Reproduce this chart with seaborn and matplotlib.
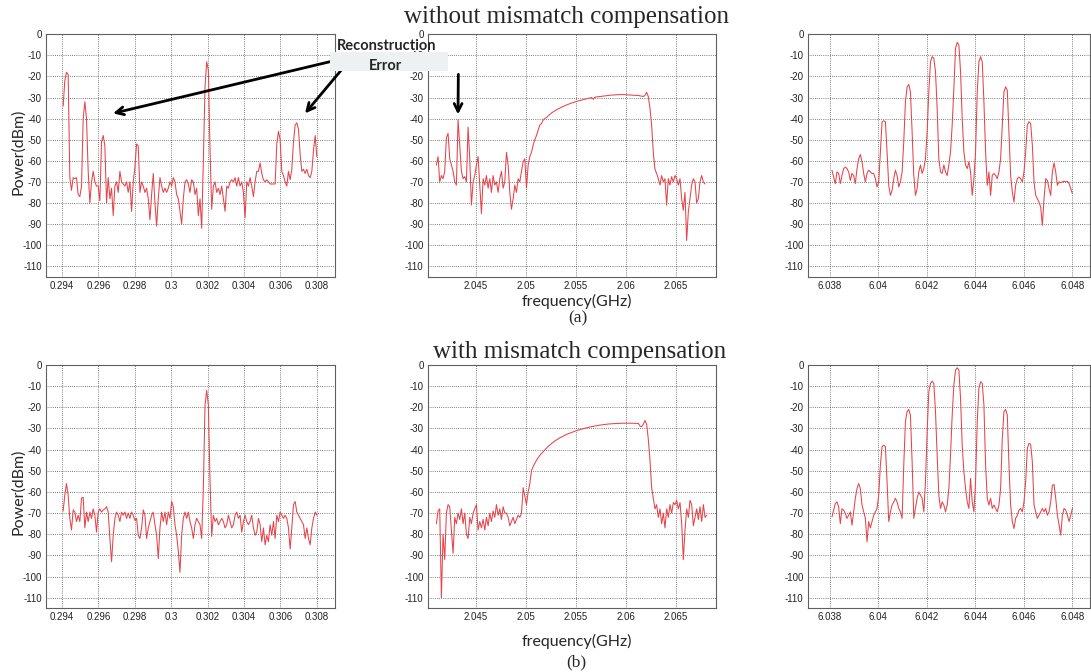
import numpy as np
import pandas as pd
import matplotlib
matplotlib.use("Agg")
import matplotlib.pyplot as plt
import matplotlib.patches as mpatches
from matplotlib.ticker import FuncFormatter
import seaborn as sns

# frequency span of every trace (GHz), bins are uniform
span_lo = (0.29406, 0.30800)
span_mid_a = (2.04107, 2.06790)
span_mid_b = (2.04107, 2.06807)
span_hi = (6.03810, 6.04800)

# power (dBm), (a) = without, (b) = with compensation
p_lo_a = [-34, -22, -18, -19, -68, -74, -68, -68.5, -68, -76, -77, -72, -40, -32, -40, -65,
          -80, -70, -65, -70, -72, -72, -79, -51, -48, -53, -80, -68, -78, -73, -86, -72,
          -70, -75, -65, -70, -71, -72, -70, -75, -70, -84, -70, -63, -52, -53, -75, -70,
          -72, -75, -73, -78, -88, -76, -66, -80, -91, -78, -68, -72, -75, -73, -75, -73,
          -70, -72, -68, -70, -76, -78, -84, -90, -78, -70, -69, -71, -75, -69, -70, -76,
          -73, -86, -78, -92, -60, -25, -13, -17, -55, -83, -72, -70, -75, -73, -76, -72,
          -78, -84, -72, -73, -70, -69, -70, -68, -72, -68, -72, -70, -75, -87, -70, -72,
          -68, -72, -77, -70, -65, -65, -61, -66, -69, -70, -69, -70, -71, -71, -71, -71,
          -52, -46, -50, -65, -67, -70, -72, -65, -69, -64, -51, -43, -42, -45, -57, -65,
          -64, -66, -64, -67, -68, -65, -55, -48, -58]
p_lo_b = [-69, -61.5, -56, -61.5, -72.5, -78, -68.5, -69.5, -74, -71, -74, -63, -62.5, -77, -69.5, -74,
          -69.5, -72.5, -68, -71, -79, -69.5, -68, -69.5, -68.5, -68, -67, -69.5, -82, -93, -80.5, -72.5,
          -69.5, -71, -74, -69.5, -71, -69.5, -72.5, -70, -72.5, -69.5, -71, -73.5, -72.5, -80.5, -82, -77,
          -68.5, -71, -82, -77, -74, -71, -69.5, -75.5, -80.5, -91.5, -77, -69.5, -74, -69.5, -75.5, -69.5,
          -72.5, -64.5, -67, -75.5, -80.5, -88, -98, -80.5, -72.5, -69.5, -72.5, -69.5, -74, -77, -82, -75.5,
          -72.5, -74, -75.5, -82, -58, -19, -12, -19, -55, -81, -71, -74, -72.5, -75.5, -74, -72.5,
          -74, -77, -75.5, -71, -74, -77, -75.5, -71, -69.5, -72.5, -71, -79, -74, -71, -74, -75.5,
          -74, -71, -77, -80.5, -79, -72.5, -75.5, -83.5, -77, -85, -80.5, -83.5, -75.5, -80.5, -74, -82,
          -71, -74, -69.5, -71, -72.5, -71, -72.5, -77, -87, -77, -66, -64.5, -69.5, -71, -72.5, -74,
          -75.5, -82, -77, -82, -85, -77, -72.5, -69.5, -71]

p_mid_a = [-62, -58, -70, -67, -68.5, -65, -49, -47, -59, -62, -65, -70, -71.5, -40.5, -52.5, -65,
           -68.5, -67.5, -70, -44, -59, -81, -70, -67, -62, -58, -71.5, -85, -68.5, -71.5, -67, -73,
           -68.5, -75, -67, -71.5, -70, -75, -68.5, -65, -73, -70, -56, -62, -75, -83, -78, -71.5,
           -75, -68.5, -70, -65, -60.5, -59, -73, -62, -58, -56, -52.5, -50, -48, -45.5, -43, -42.3,
           -40.7, -40, -39.5, -38.7, -38, -37.3, -36.8, -36.3, -35.8, -35.4, -35, -34.6, -34.2, -33.9,
           -33.5, -33.2, -32.9, -32.6, -32.4, -32.1, -31.8, -31.6, -31.4, -31.2, -31, -30.8, -30.6, -30.4,
           -30.2, -30, -30.8, -29.8, -29.7, -29.6, -29.5, -29.4, -29.3, -29.2, -29.1, -29, -28.9, -28.8,
           -28.8, -28.7, -28.7, -28.6, -28.6, -28.6, -28.6, -28.6, -28.7, -28.7, -28.8, -28.8, -28.9, -28.9,
           -29, -29, -29.2, -29.3, -29.5, -29, -27.5, -29.5, -35, -43, -56, -64, -66, -68.5, -71.5, -67,
           -70, -68.5, -81, -68.5, -71.5, -67.5, -70, -67, -68.5, -71.5, -68.5, -78, -83.5, -75, -97.8,
           -84.3, -78, -71.5, -68.5, -70, -80, -78, -70, -67, -70, -71]
p_mid_b = [-75, -69, -68, -110, -80, -92, -70, -66, -67, -78, -89, -72, -75, -70, -73, -68,
           -75, -70, -80, -82, -72, -75, -70, -68, -66, -78, -74, -77, -73, -78, -72, -76,
           -70, -74, -69, -72, -66, -71, -68, -73, -67, -70, -70, -72, -76, -74, -72, -75,
           -73, -71, -72, -70, -58, -62, -66, -60, -56, -50, -48, -46.5, -45, -43.8, -42.7, -41.8,
           -41, -40.1, -39.3, -38.5, -37.8, -37.1, -36.5, -35.9, -35.4, -34.9, -34.4, -34, -33.6, -33.2,
           -32.8, -32.5, -32.2, -31.9, -31.6, -31.3, -31, -30.8, -30.5, -30.3, -30.1, -29.9, -29.7, -29.5,
           -29.3, -29.1, -29, -28.8, -28.7, -28.5, -28.4, -28.3, -28.2, -28.1, -28, -27.9, -27.8, -27.8,
           -27.7, -27.7, -27.6, -27.6, -27.6, -27.5, -27.5, -27.5, -27.5, -27.5, -27.5, -27.5, -27.5, -27.6,
           -27.6, -27.6, -28.8, -29.2, -28, -26.2, -28, -35, -45, -58, -63, -68, -66, -72, -68, -75,
           -70, -77, -68, -72, -66, -70, -65, -66, -64, -68, -65, -75, -92, -78, -68, -72,
           -64, -66, -76, -72, -68, -73, -67, -74, -66, -72, -71]

p_hi_a = [-64.5, -67.7, -70.8, -65.3, -66, -70.8, -67, -63.7, -63, -63.7, -65.3, -69.3, -66, -67, -70.8, -63.7,
          -59, -57, -60.5, -66, -70, -66, -64.5, -65.3, -66, -66, -68.5, -72.4, -70, -55.8, -41.5, -41,
          -41.5, -55.8, -71.6, -76.4, -74, -68.5, -64.5, -67, -72.4, -70, -65.3, -51, -32, -24.9, -23.8, -27.3,
          -46.3, -66.9, -76.4, -73.2, -65.3, -62, -66, -63.7, -59, -46.3, -27.3, -13, -10.6, -11.4, -17.7, -35.2,
          -59, -65.3, -66, -62, -65.3, -67, -62, -55.8, -43, -25.7, -6.7, -3.8, -5.1, -17.7, -40, -55.8,
          -62, -63.7, -60.5, -65.3, -76.4, -68.5, -55.8, -27.3, -13, -10.6, -13, -32, -55.8, -71.6, -65.3, -76.4,
          -66.9, -66, -66.9, -68.5, -65.3, -59, -43, -27.3, -24.9, -26.5, -46.3, -67, -74.8, -79.6, -71.6, -68.5,
          -67.7, -68.5, -70, -65.3, -55.8, -43, -41.5, -42.3, -52.6, -70, -76.4, -78, -79.6, -82, -90.6, -78,
          -68.5, -69.3, -73.2, -76.4, -65.3, -61, -65.3, -71.6, -70, -70.4, -70, -69.7, -70, -69.7, -70.8, -73.2,
          -75.6]
p_hi_b = [-71.8, -68.6, -65.5, -64.7, -67, -75, -68, -68.6, -70.2, -72.5, -71, -69.4, -75.7, -69.4, -63, -58.4,
          -56, -58.4, -66.2, -69.4, -72.5, -83.6, -74, -77, -74, -71, -69.4, -67.8, -61.5, -47.3, -38.6, -37.9,
          -38.6, -55.2, -74, -69.4, -66.2, -64.7, -63, -64.7, -67.8, -69.4, -72.5, -47.3, -26.8, -22, -21, -23.7,
          -45.7, -72.5, -67.8, -63, -60, -61.5, -63, -69.4, -55.2, -31.5, -12.6, -8.7, -7.6, -8.7, -22, -42.6,
          -61.5, -67.8, -64.7, -66.2, -69.4, -66.2, -58.4, -42.6, -23.7, -9.5, -2.4, -1.3, -2.4, -15.8, -37.9, -50.5,
          -58.4, -64.7, -67.8, -53.6, -64.7, -69.4, -55.2, -26.8, -11, -7.9, -8.7, -18.9, -47.3, -63, -66.2, -63,
          -67.8, -66.2, -67.8, -69.4, -66.2, -58.4, -34.7, -22, -21, -23.7, -47.3, -66.2, -74, -77.3, -72.5, -71,
          -68.6, -67.8, -69.4, -64.7, -55.2, -39.4, -37, -37.5, -45.7, -66.2, -69.4, -72.5, -71, -69.4, -67.8, -69.4,
          -67.8, -71, -69.4, -64.7, -56.8, -56.5, -63, -71, -75.7, -80.4, -71, -67.8, -68.6, -71, -74, -71,
          -67.8]

xt_lo = [0.294, 0.296, 0.298, 0.3, 0.302, 0.304, 0.306, 0.308]
xt_mid = [2.045, 2.05, 2.055, 2.06, 2.065]
xt_hi = [6.038, 6.04, 6.042, 6.044, 6.046, 6.048]
yt = [0, -10, -20, -30, -40, -50, -60, -70, -80, -90, -100, -110]

sns.set_style("whitegrid", rc={
  "axes.edgecolor": "#606060",
  "axes.linewidth": 0.9,
  "xtick.color": "#222222",
  "ytick.color": "#222222",
})
plt.rcParams["font.family"] = ["Liberation Sans", "DejaVu Sans"]
plt.rcParams["axes.unicode_minus"] = False

red = "#e6434a"
fig = plt.figure(figsize=(10.91, 6.72), dpi=100)

cols = [0.0422, 0.3920, 0.7403]
widths = [0.2649, 0.2643, 0.2587]
rows = [0.5882, 0.0948]
heights = [0.3607, 0.3620]
panels = [
  [(span_lo, p_lo_a, xt_lo, (0.29312, 0.30900)),
   (span_mid_a, p_mid_a, xt_mid, (2.0402, 2.0690)),
   (span_hi, p_hi_a, xt_hi, (6.0371, 6.04872))],
  [(span_lo, p_lo_b, xt_lo, (0.29312, 0.30900)),
   (span_mid_b, p_mid_b, xt_mid, (2.0402, 2.0690)),
   (span_hi, p_hi_b, xt_hi, (6.0371, 6.04872))],
]

axes = []
for r in range(2):
  row = []
  for c in range(3):
    span, vals, xt, xl = panels[r][c]
    ax = fig.add_axes([cols[c], rows[r], widths[c], heights[r]])
    df = pd.DataFrame({"freq": np.linspace(span[0], span[1], len(vals)), "power": vals})
    sns.lineplot(data=df, x="freq", y="power", ax=ax, color=red, linewidth=0.75,
                 estimator=None, sort=False)
    ax.set_xlim(*xl)
    ax.set_ylim(-115, 0)
    ax.set_xticks(xt)
    ax.set_yticks(yt)
    ax.xaxis.set_major_formatter(FuncFormatter(lambda v, _: f"{v:g}"))
    ax.set_xlabel("")
    ax.set_ylabel("")
    ax.grid(True, color="#333333", linestyle=(0, (1, 1.8)), linewidth=0.55)
    ax.tick_params(length=0, labelsize=7, pad=3)
    for s in ax.spines.values():
      s.set_visible(True)
    row.append(ax)
  axes.append(row)

serif = ["Liberation Serif", "DejaVu Serif"]
sans = ["Lato", "DejaVu Sans"]
fig.text(0.5194, 0.9747, "without mismatch compensation", family=serif, fontsize=18, ha="center", va="center")
fig.text(0.5316, 0.4767, "with mismatch compensation", family=serif, fontsize=18, ha="center", va="center")
fig.text(0.5295, 0.5268, "(a)", family=serif, fontsize=12.5, ha="center", va="center")
fig.text(0.5286, 0.0144, "(b)", family=serif, fontsize=12.5, ha="center", va="center")
fig.text(0.5286, 0.5520, "frequency(GHz)", family=sans, fontsize=11.5, ha="center", va="center")
fig.text(0.5286, 0.0461, "frequency(GHz)", family=sans, fontsize=11.5, ha="center", va="center")
fig.text(0.0165, 0.7738, "Power(dBm)", family=sans, fontsize=11.5, rotation=90, ha="center", va="center")
fig.text(0.0168, 0.2683, "Power(dBm)", family=sans, fontsize=11.5, rotation=90, ha="center", va="center")

# callout box
fig.patches.append(mpatches.Rectangle((0.3025, 0.8943), 0.1082, 0.0287, transform=fig.transFigure,
                                      facecolor="#edf1f1", edgecolor="none", zorder=2))
fig.text(0.3544, 0.9320, "Reconstruction", family=sans, fontsize=10.5, fontweight="bold",
         ha="center", va="center", zorder=3)
fig.text(0.3538, 0.9022, "Error", family=sans, fontsize=10.5, fontweight="bold",
         ha="center", va="center", zorder=3)

arrow = dict(arrowstyle="->", color="black", lw=2, mutation_scale=14, shrinkA=0, shrinkB=0)
axes[0][0].annotate("", xy=(0.2968, -37.5), xytext=(0.3025, 0.9082), textcoords="figure fraction",
                    arrowprops=arrow, annotation_clip=False)
axes[0][0].annotate("", xy=(0.30735, -37.5), xytext=(0.3144, 0.8988), textcoords="figure fraction",
                    arrowprops=arrow, annotation_clip=False)
axes[0][1].annotate("", xy=(2.04323, -38), xytext=(0.4201, 0.8894), textcoords="figure fraction",
                    arrowprops=arrow, annotation_clip=False)

fig.savefig("out.png", dpi=100)
